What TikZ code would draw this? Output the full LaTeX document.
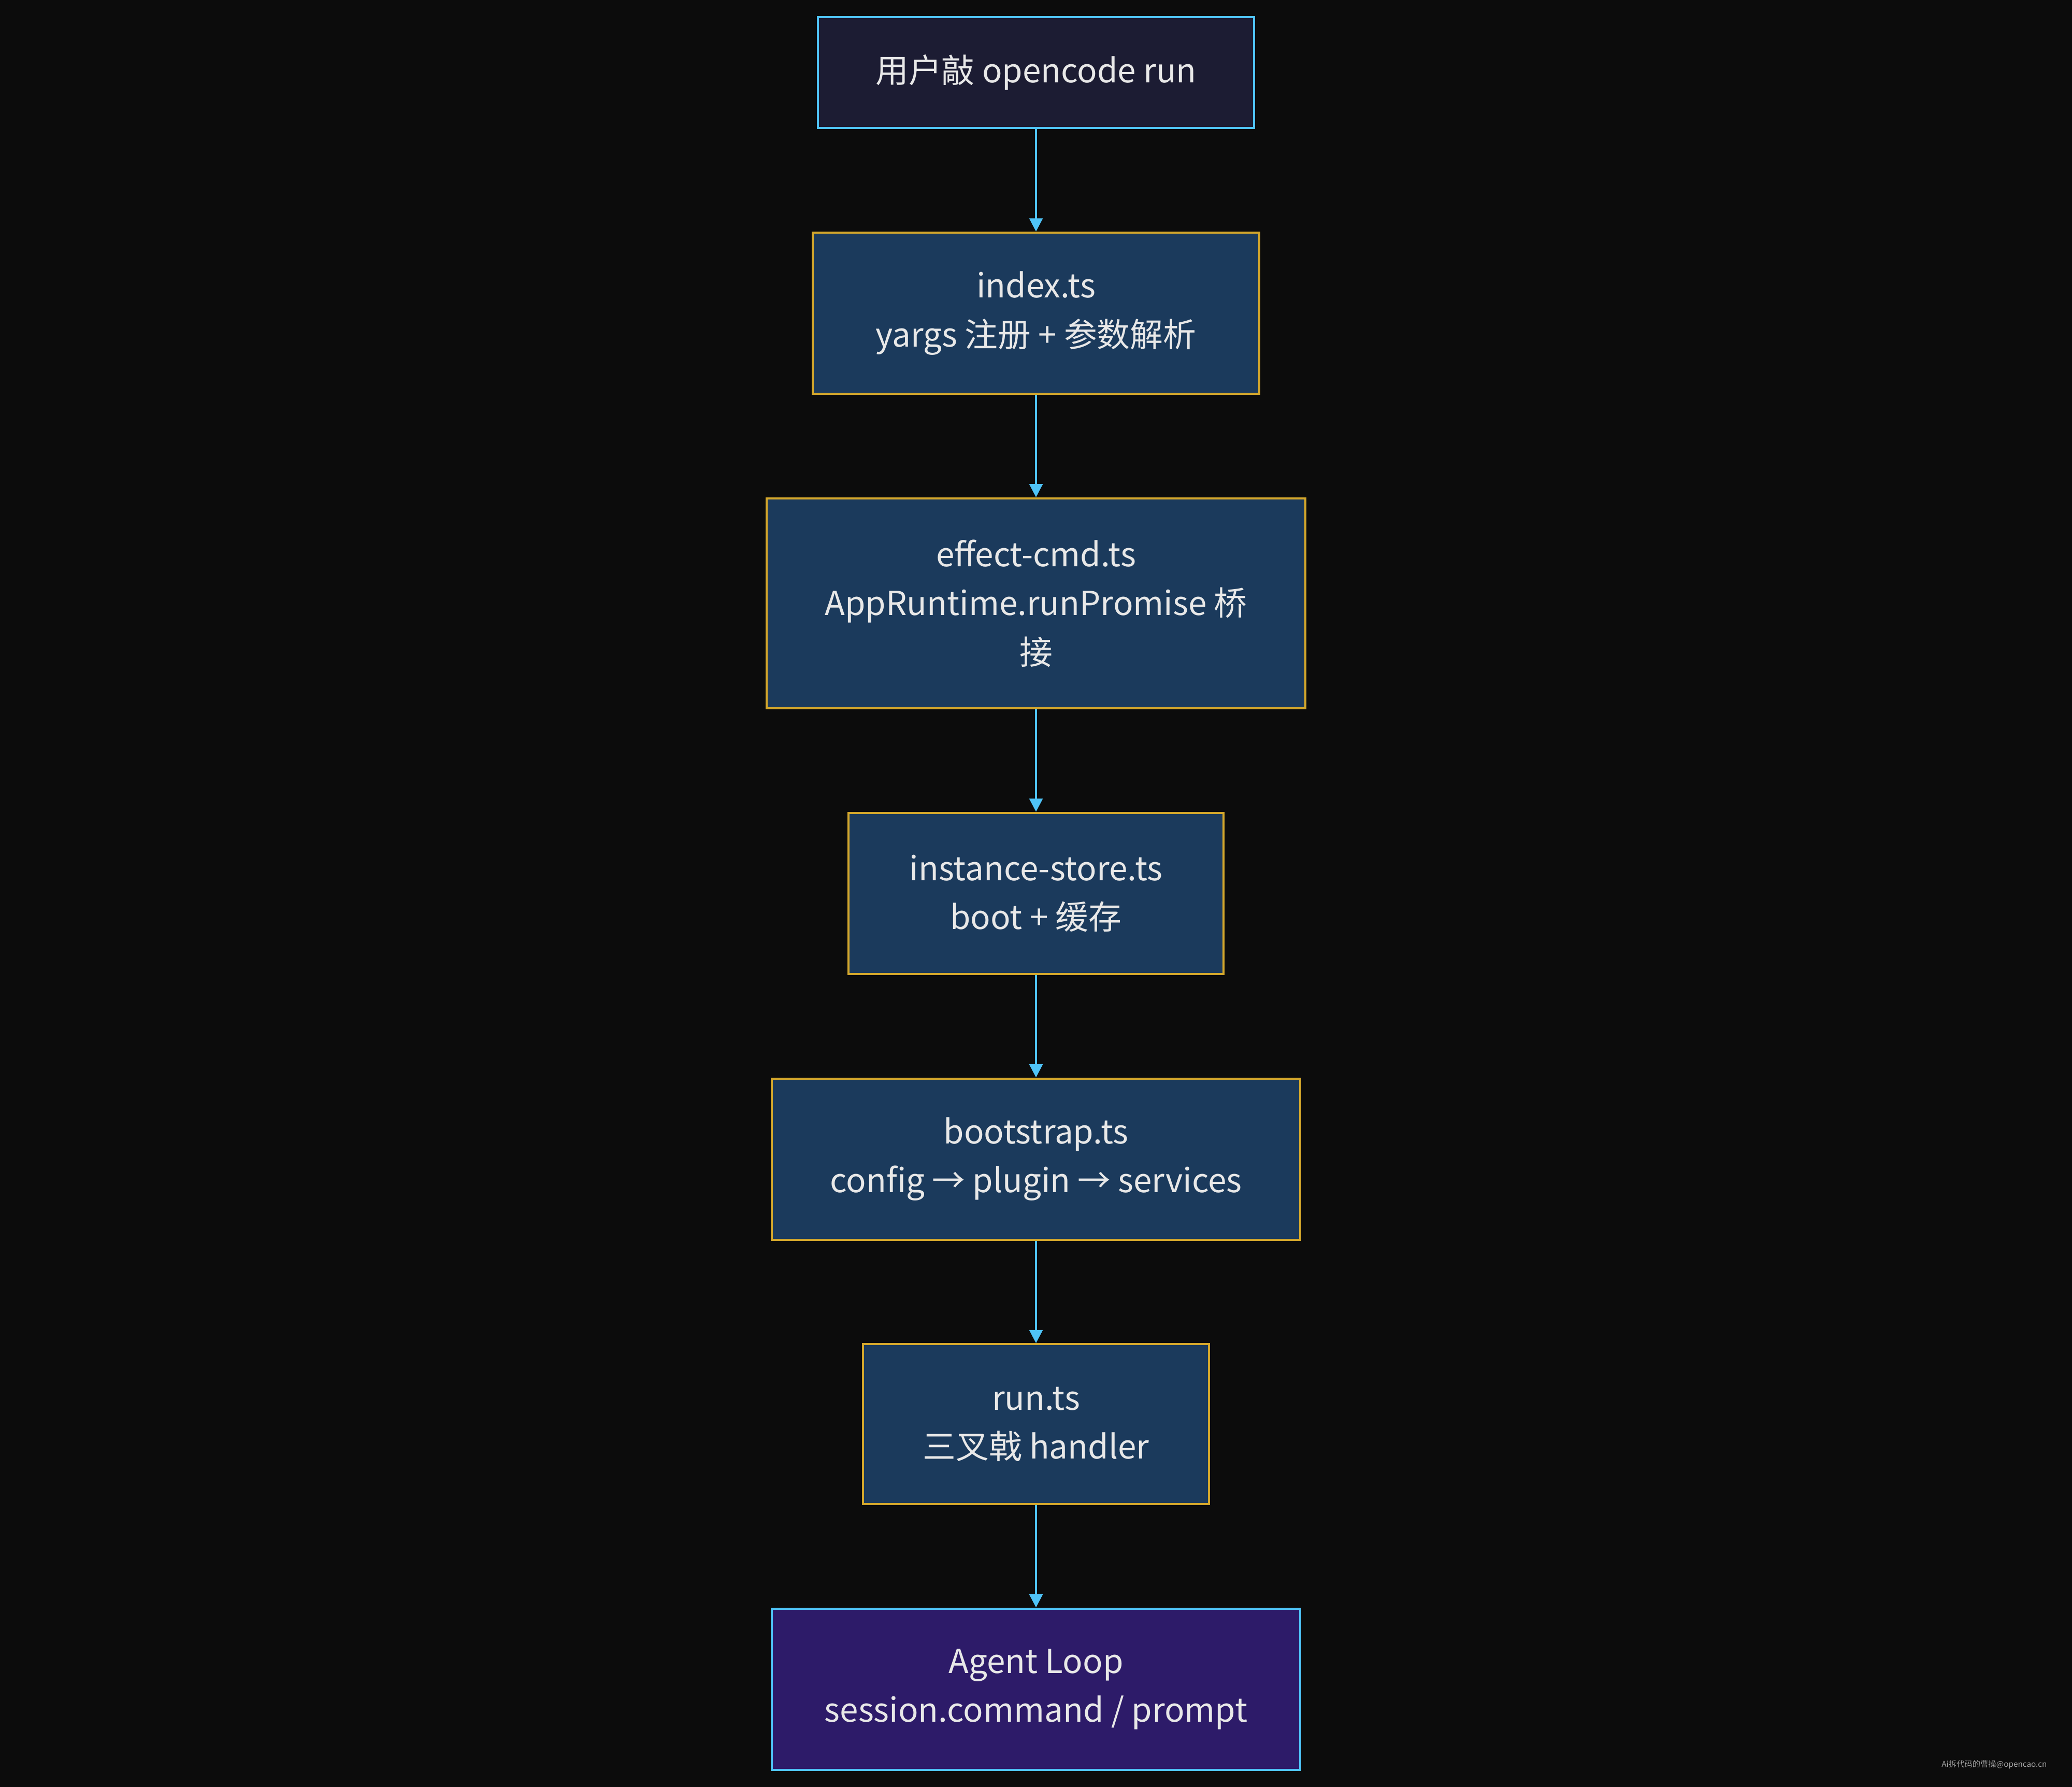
\documentclass[tikz,border=0pt]{standalone}
\usepackage{fontspec}
\setmainfont{Noto Sans CJK SC}
\usetikzlibrary{arrows.meta}
\definecolor{bg}{HTML}{0C0C0C}
\definecolor{nfill}{HTML}{1B3A5C}
\definecolor{gold}{HTML}{D4A72C}
\definecolor{sky}{HTML}{4FC3F7}
\definecolor{topfill}{HTML}{1C1C33}
\definecolor{purp}{HTML}{2D1B69}
\definecolor{txt}{HTML}{E8E8E8}
\tikzset{
 box/.style={draw=gold,fill=nfill,line width=0.8pt,text=txt,font=\fontsize{12.5}{18.5}\selectfont,align=center},
 arr/.style={draw=sky,line width=0.8pt,-{Triangle[length=5pt,width=5pt]}}
}
\begin{document}
\begin{tikzpicture}[x=0.5pt,y=-0.5pt]
\fill[bg] (0,0) rectangle (1568,1352);
\useasboundingbox (0,0) rectangle (1568,1352);
\node[box,draw=sky,fill=topfill,minimum width=165pt,minimum height=42pt] (a) at (784,55) {用户敲 opencode run};
\node[box,minimum width=169pt,minimum height=61pt] (b) at (784,237) {index.ts\\yargs 注册 + 参数解析};
\node[box,minimum width=204pt,minimum height=79.5pt] (c) at (784,456.5) {effect-cmd.ts\\AppRuntime.runPromise 桥\\接};
\node[box,minimum width=142pt,minimum height=61pt] (d) at (784,676) {instance-store.ts\\boot + 缓存};
\node[box,minimum width=200pt,minimum height=61pt] (e) at (784,877) {bootstrap.ts\\config → plugin → services};
\node[box,minimum width=131pt,minimum height=60.5pt] (f) at (784,1077.5) {run.ts\\三叉戟 handler};
\node[box,draw=sky,fill=purp,minimum width=200pt,minimum height=61pt] (g) at (784,1278) {Agent Loop\\session.command / prompt};
\foreach \p/\q in {a/b,b/c,c/d,d/e,e/f,f/g} \draw[arr] (\p) -- (\q);
\node[text=gray!70,font=\fontsize{3}{3}\selectfont,anchor=east] (w) at (1556,1335) {Ai拆代码的曹操@opencao.cn};
\end{tikzpicture}
\end{document}
